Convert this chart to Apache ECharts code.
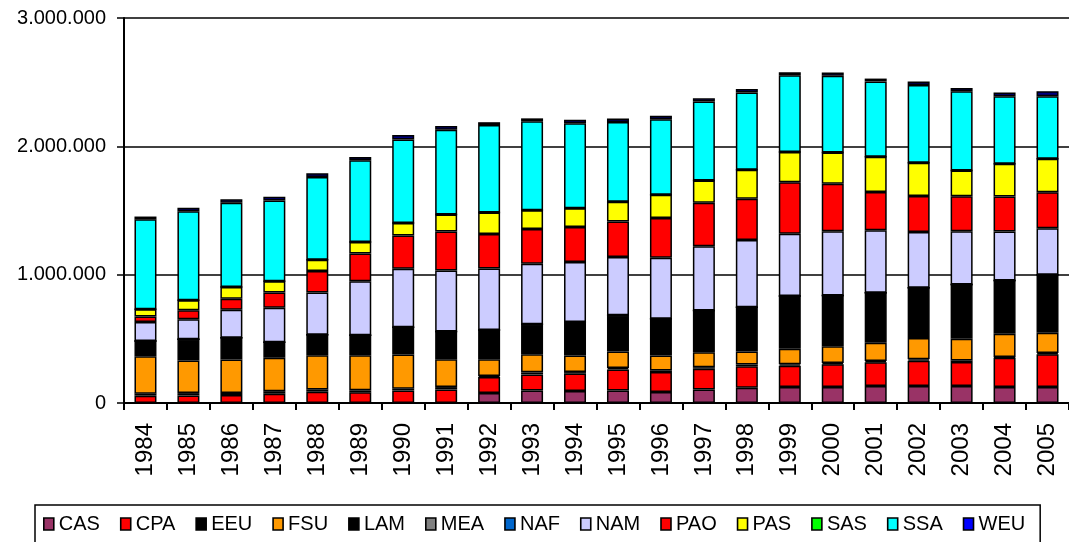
<!DOCTYPE html>
<html>
<head>
<meta charset="utf-8">
<script src="https://cdn.jsdelivr.net/npm/echarts@6/dist/echarts.min.js"></script>
<style>
html,body{margin:0;padding:0;background:#fff;}
#chart{width:1069px;height:542px;}
</style>
</head>
<body>
<div id="chart"></div>
<script>
const years = ['1984','1985','1986','1987','1988','1989','1990','1991','1992','1993','1994','1995','1996','1997','1998','1999','2000','2001','2002','2003','2004','2005'];
const yTicks = [0, 1000000, 2000000, 3000000];

// values in thousands
const CAS = [0,0,0,0,0,0,0,0,78,98,93,98,85,106,119,124,124,132,132,132,124,124];
const CPA = [57,59,62,72,88,83,98,106,125,125,136,164,156,161,168,167,177,185,198,187,229,255];
const EEU = [16,18,16,20,18,16,13,18,8,16,12,10,13,12,13,10,10,10,10,13,5,10];
const FSU = [291,255,260,260,267,273,267,216,129,140,130,130,117,117,101,122,132,143,166,169,182,158];
const LAM = [119,164,171,122,159,156,213,218,229,234,260,281,286,325,345,410,395,390,393,423,415,452];
const MEA = [0,0,0,0,0,0,0,0,0,0,0,0,0,0,0,0,0,0,0,0,0,0];
const NAF = [0,0,0,0,0,0,0,0,0,0,0,0,0,0,0,0,0,0,0,0,0,0];
const NAM = [148,156,218,268,330,421,455,475,480,473,468,454,475,501,525,486,501,486,433,415,382,363];
const PAO = [44,70,86,119,166,216,260,304,268,270,273,278,309,338,320,402,369,299,281,273,273,281];
const PAS = [55,78,90,88,89,90,96,132,168,146,146,154,182,174,226,234,244,273,260,200,255,260];
const SAS = [0,0,0,0,0,0,0,0,0,0,0,0,0,0,0,0,0,0,0,0,0,0];
const SSA = [701,694,658,629,644,637,652,660,681,694,662,620,589,616,602,598,598,588,605,618,525,488];
const WEU = [22,27,26,29,29,24,34,29,22,22,27,27,27,24,27,24,26,22,27,24,29,39];

const seriesNames = ['CAS','CPA','EEU','FSU','LAM','MEA','NAF','NAM','PAO','PAS','SAS','SSA','WEU'];
const seriesData = [CAS,CPA,EEU,FSU,LAM,MEA,NAF,NAM,PAO,PAS,SAS,SSA,WEU];
const colors = ['#993366','#FF0000','#000000','#FF9900','#000000','#808080','#0066CC','#CCCCFF','#FF0000','#FFFF00','#00FF00','#00FFFF','#0000FF'];
const barColors = colors.slice(0, 12).concat(['#000080']);

function fmt(v){
  return String(Math.round(v)).replace(/\B(?=(\d{3})+(?!\d))/g, '.');
}

const FONT = 'Liberation Sans, Arial, sans-serif';
const chart = echarts.init(document.getElementById('chart'), null, {renderer:'canvas'});
chart.setOption({
  animation: false,
  backgroundColor: '#ffffff',
  grid: {left: 124, top: 18, width: 957, height: 385, containLabel: false},
  legend: {
    data: seriesNames.map((n, i) => ({
      name: n,
      icon: 'path://M0,0 L10,0 L10,12 L0,12 Z',
      itemStyle: {color: colors[i], borderColor: '#000', borderWidth: 1.6, opacity: 1}
    })),
    left: 35, top: 505,
    itemGap: 20, itemWidth: 10, itemHeight: 12,
    padding: [9, 15, 12, 8],
    borderColor: '#000', borderWidth: 1.5,
    textStyle: {fontFamily: FONT, fontSize: 20, color: '#000'}
  },
  xAxis: {
    type: 'category',
    data: years,
    axisLine: {lineStyle: {color: '#000', width: 2}},
    axisTick: {show: true, length: 7, lineStyle: {color: '#000', width: 2}},
    axisLabel: {rotate: 90, fontFamily: FONT, fontSize: 24, color: '#000', margin: 20}
  },
  yAxis: {
    type: 'value',
    min: yTicks[0], max: yTicks[yTicks.length-1], interval: yTicks[1]-yTicks[0],
    axisLine: {show: true, lineStyle: {color: '#000', width: 2}},
    axisTick: {show: true, length: 7, lineStyle: {color: '#000', width: 1.5}},
    axisLabel: {fontFamily: FONT, fontSize: 20, color: '#000', margin: 18, formatter: fmt},
    splitLine: {show: true, lineStyle: {color: '#000', width: 1.5}}
  },
  series: seriesNames.map((n, i) => ({
    name: n,
    type: 'bar',
    stack: 'total',
    barWidth: 22,
    data: seriesData[i].map(v => v * 1000),
    itemStyle: {color: barColors[i], borderColor: '#000', borderWidth: 1.5}
  }))
});
</script>
</body>
</html>
